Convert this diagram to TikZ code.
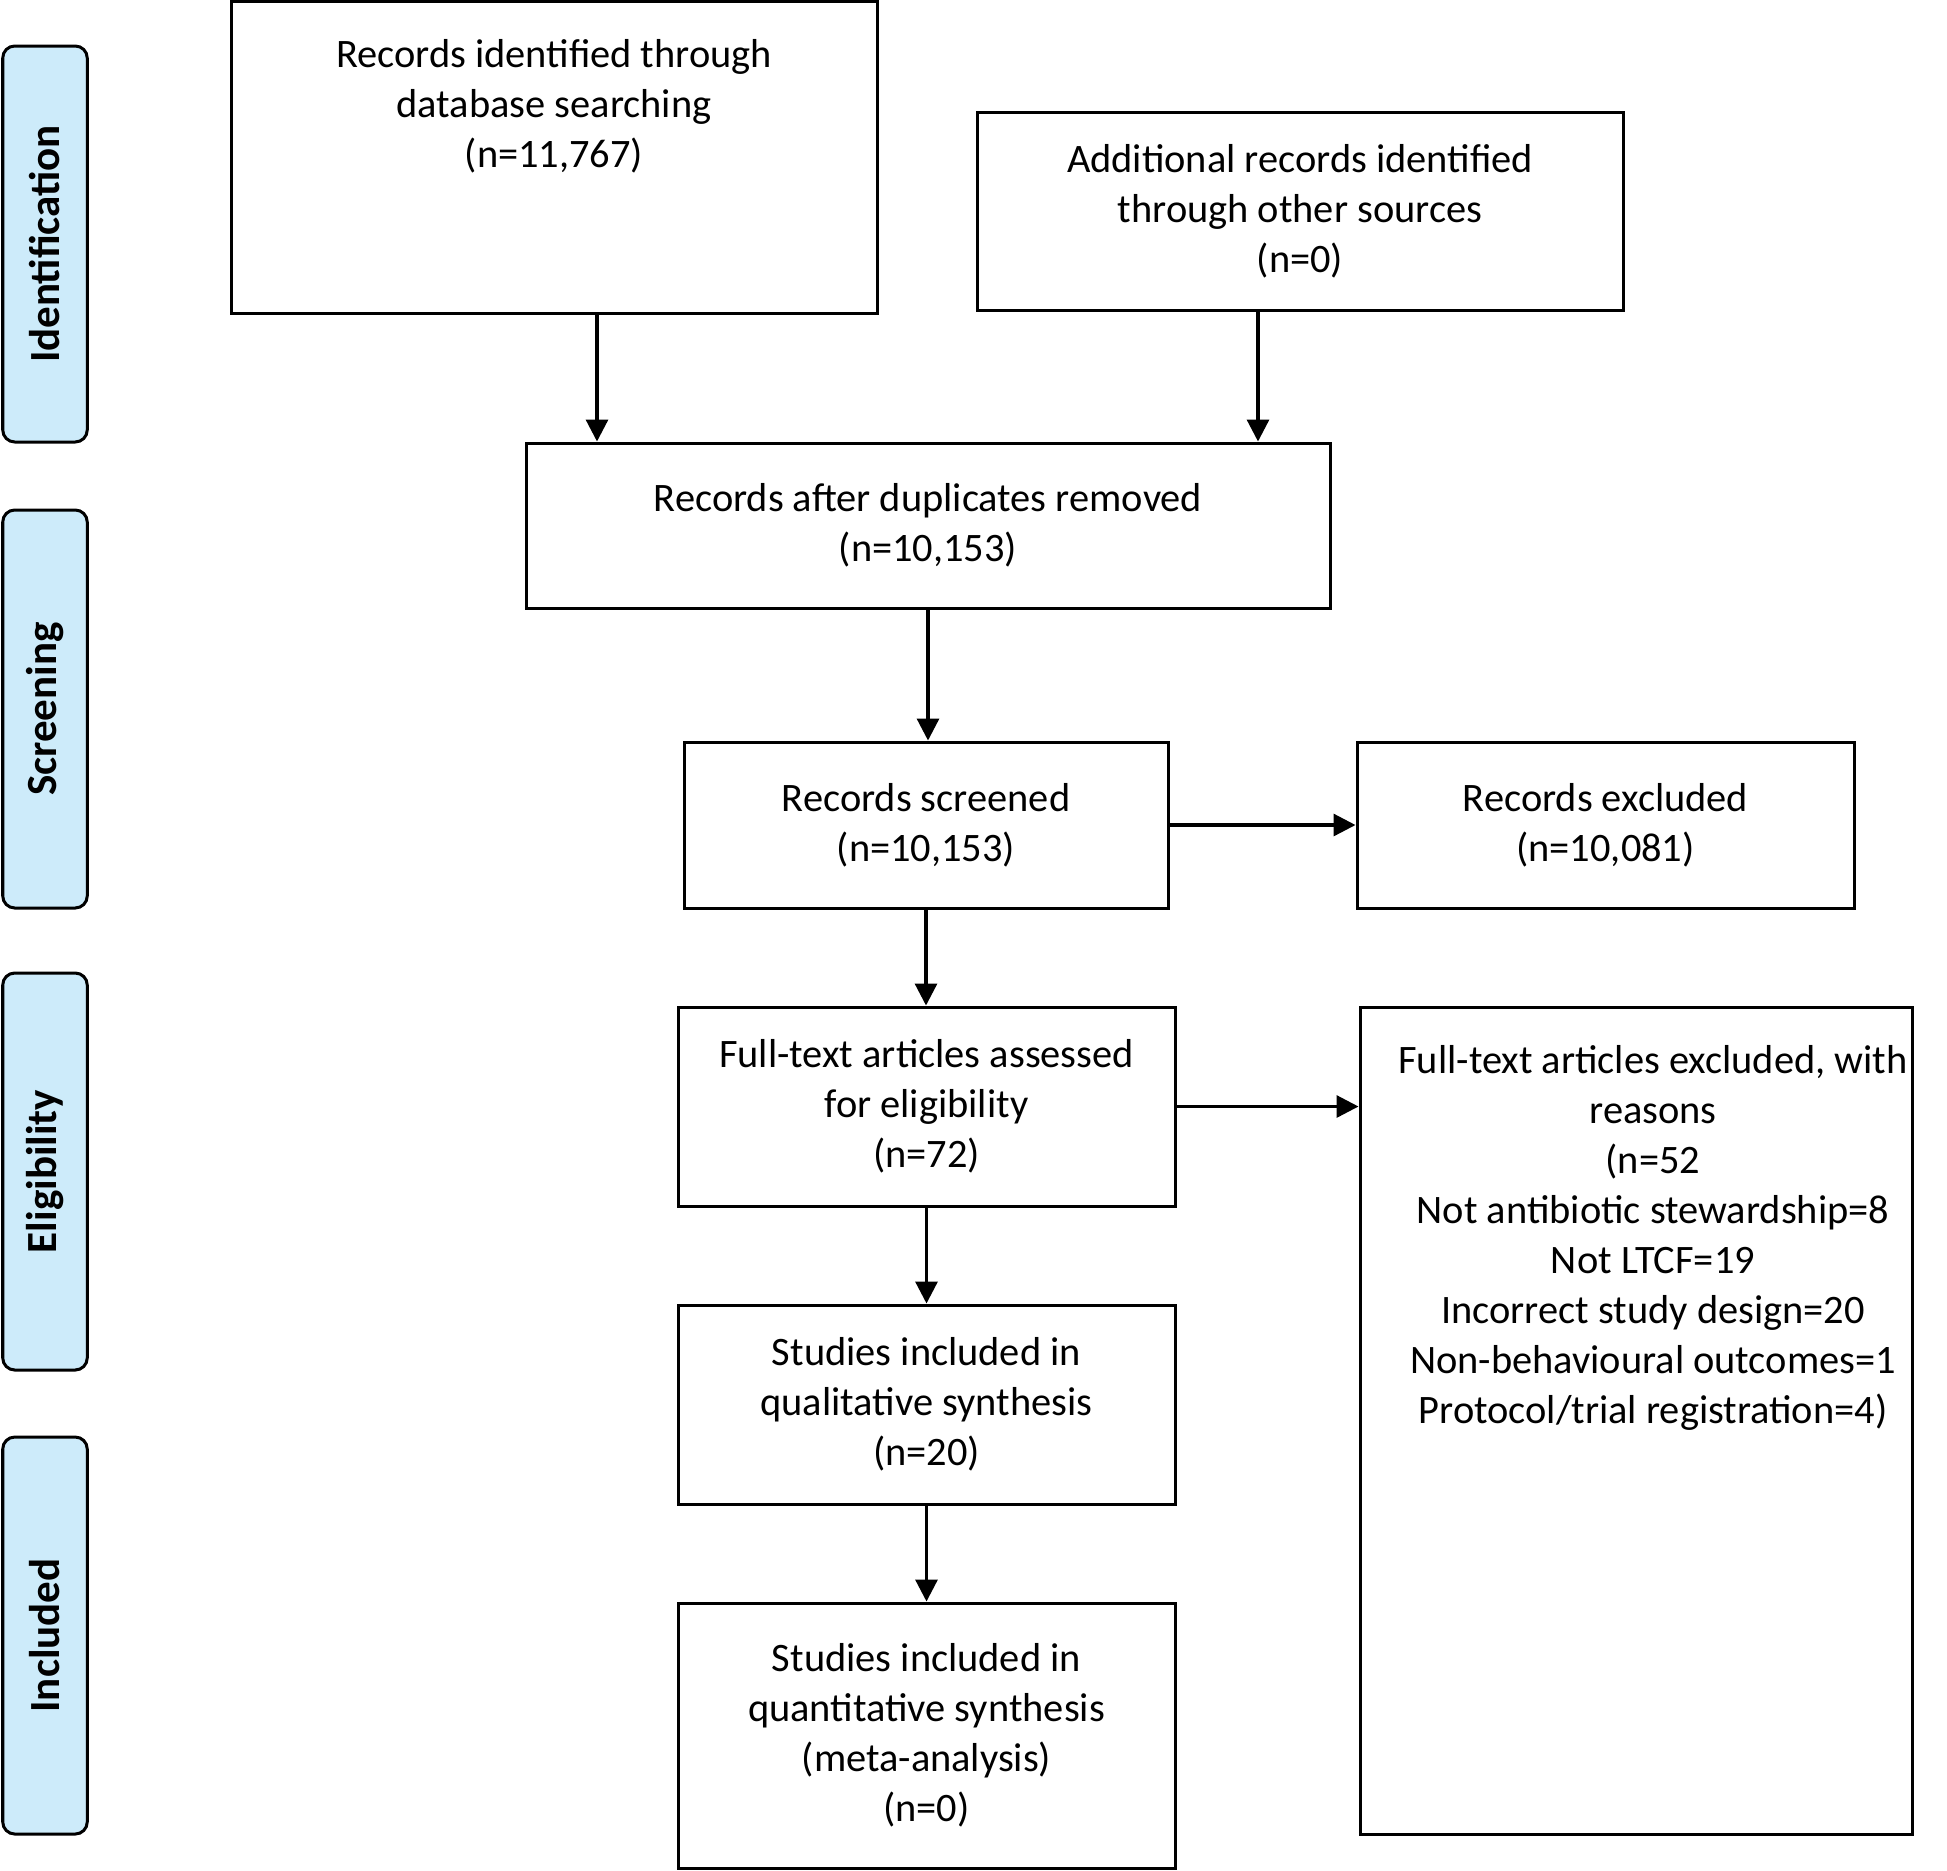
\documentclass[tikz,border=0pt]{standalone}
\usepackage{fontspec}
\setmainfont{Carlito}
\usetikzlibrary{arrows.meta}

\definecolor{stagefill}{RGB}{205,235,250}

\begin{document}
\begin{tikzpicture}[
    x=0.5pt, y=-0.5pt,
    box/.style={draw, line width=1.5pt, align=center, inner sep=0pt, font=\fontsize{20.2}{25}\selectfont},
    txt/.style={align=center, inner sep=0pt, font=\fontsize{20.2}{25}\selectfont},
    stage/.style={draw, line width=1.5pt, fill=stagefill, rounded corners=6pt, rotate=90, minimum height=42.25pt, font=\bfseries\fontsize{21.5}{24}\selectfont},
    arrow/.style={draw, line width=1.6pt, -{Triangle[length=11pt,width=11pt]}}
]
\useasboundingbox (0,0) rectangle (1947,1870);

% Define stage bars
\node[stage, minimum width=198pt] (ident) at (45,244) {Identification};
\node[stage, minimum width=199pt] (screen) at (45,709) {Screening};
\node[stage, minimum width=198.5pt] (elig) at (45,1171.5) {Eligibility};
\node[stage, minimum width=198.5pt] (incl) at (45,1635.5) {Included};

% Define boxes
\node[box, minimum width=323pt, minimum height=156pt] (db) at (554,157) {};
\node[txt] (dbtext) at (554,106) {Records identified through\\database searching\\(n=11,767)};
\node[box, minimum width=323pt, minimum height=99pt] (other) at (1300,211) {Additional records identified\\through other sources\\(n=0)};
\node[box, minimum width=402pt, minimum height=82.5pt] (dup) at (928,525.5) {Records after duplicates removed\\(n=10,153)};
\node[box, minimum width=242pt, minimum height=83pt] (scr) at (926,825) {Records screened\\(n=10,153)};
\node[box, minimum width=248.5pt, minimum height=83pt] (excl) at (1605.5,825) {Records excluded\\(n=10,081)};
\node[box, minimum width=248.5pt, minimum height=99.5pt] (full) at (926.5,1106.5) {Full-text articles assessed\\for eligibility\\(n=72)};
\node[box, minimum width=276pt, minimum height=413.5pt] (ftx) at (1636,1420.5) {};
\node[txt] (ftxtext) at (1653,1238) {Full-text articles excluded, with\\reasons\\(n=52\\Not antibiotic stewardship=8\\Not LTCF=19\\Incorrect study design=20\\Non-behavioural outcomes=1\\Protocol/trial registration=4)};
\node[box, minimum width=248.5pt, minimum height=99.5pt] (qual) at (926.5,1404.5) {Studies included in\\qualitative synthesis\\(n=20)};
\node[box, minimum width=248.5pt, minimum height=132.5pt] (quant) at (926.5,1735.5) {Studies included in\\quantitative synthesis\\(meta-analysis)\\(n=0)};

% Define arrows
\path[arrow] ([xshift=21.5pt]db.south) -- ([xshift=21.5pt]db.south |- dup.north);
\path[arrow] ([xshift=-21pt]other.south) -- ([xshift=-21pt]other.south |- dup.north);
\path[arrow] (dup.south) -- (dup.south |- scr.north);
\path[arrow] (scr.east) -- (scr.east -| excl.west);
\path[arrow] (scr.south) -- (scr.south |- full.north);
\path[arrow] (full.east) -- (full.east -| ftx.west);
\path[arrow] (full.south) -- (full.south |- qual.north);
\path[arrow] (qual.south) -- (qual.south |- quant.north);

\end{tikzpicture}
\end{document}
